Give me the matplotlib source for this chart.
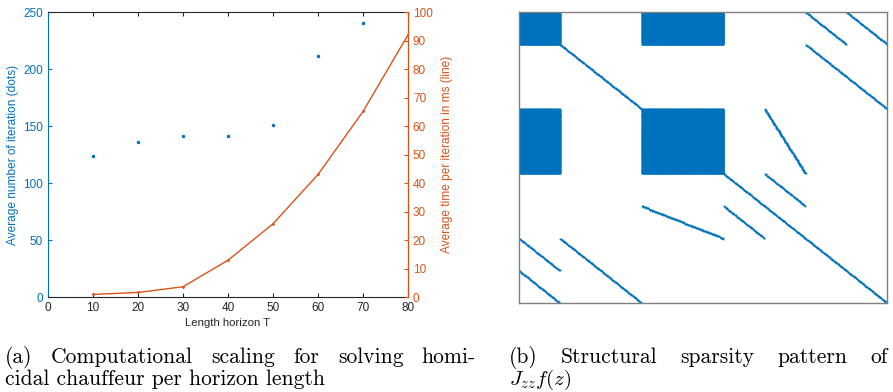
import numpy as np
from matplotlib import pyplot as plt

plt.rcParams['font.family'] = ['Liberation Sans', 'DejaVu Sans']
plt.rcParams['mathtext.fontset'] = 'cm'

# Left panel data
horizon = [10, 20, 30, 40, 50, 60, 70, 80]
iterations = [124, 136, 141.5, 141.5, 150.5, 211, 240, np.nan]
time_ms = [0.9, 1.6, 3.6, 12.9, 25.7, 43.0, 65.1, 92.0]

# Right panel: sparsity structure in block units (col0, row0, col1, row1), 9x9 grid
units = 9
dense_blocks = [(0, 0, 1, 1), (3, 0, 5, 1), (0, 3, 1, 5), (3, 3, 5, 5)]
diag_segments = [(1, 1, 3, 3), (5, 5, 9, 9), (7, 0, 8, 1), (8, 0, 9, 1),
                 (7, 1, 9, 3), (6, 3, 7, 5), (6, 5, 7, 6), (3, 6, 5, 7),
                 (5, 6, 6, 7), (0, 7, 1, 8), (1, 7, 3, 9), (0, 8, 1, 9)]

blue = '#0072BD'
orange = '#D95319'
grey = '#262626'

fig = plt.figure(figsize=(8.93, 3.92), dpi=100)

# ---- left: computational scaling ----
ax1 = fig.add_axes([0.0538, 0.2423, 0.4031, 0.7270])
ax1.plot(horizon, iterations, '.', color=blue, markersize=3)
ax1.set_xlim(0, 80)
ax1.set_ylim(0, 250)
ax1.set_xticks(range(0, 81, 10))
ax1.set_yticks(range(0, 251, 50))
ax1.set_ylabel('Average number of iteration (dots)', color=blue, fontsize=8.6, labelpad=3)
ax1.set_xlabel('Length horizon T', color=grey, fontsize=8.2, labelpad=3)
ax1.tick_params(axis='y', colors=blue, direction='in', length=3, labelsize=8.5)
ax1.tick_params(axis='x', colors=grey, direction='in', length=3, labelsize=8.5, top=True)
ax1.spines['left'].set_color(blue)
ax1.spines['bottom'].set_color(grey)
ax1.spines['top'].set_color(grey)
for s in ax1.spines.values():
    s.set_linewidth(0.8)

ax2 = ax1.twinx()
ax2.plot(horizon, time_ms, '.-', color=orange, markersize=2, linewidth=1)
ax2.set_ylim(0, 100)
ax2.set_yticks(range(0, 101, 10))
ax2.set_ylabel('Average time per iteration in ms (line)', color=orange, fontsize=8.6, labelpad=6)
ax2.tick_params(axis='y', colors=orange, direction='in', length=3, labelsize=8.5)
ax2.spines['right'].set_color(orange)
ax2.spines['left'].set_visible(False)
ax2.spines['top'].set_visible(False)
ax2.spines['bottom'].set_visible(False)
ax2.spines['right'].set_linewidth(0.8)

# ---- right: sparsity pattern ----
n = 60
N = units * n
M = np.zeros((N, N))
for c0, r0, c1, r1 in dense_blocks:
    M[r0 * n:r1 * n, c0 * n:c1 * n] = 1
for c0, r0, c1, r1 in diag_segments:
    steps = max(abs(c1 - c0), abs(r1 - r0)) * n
    t = np.linspace(0, 1, steps, endpoint=False)
    rows = np.round((r0 + (r1 - r0) * t) * n).astype(int)
    cols = np.round((c0 + (c1 - c0) * t) * n).astype(int)
    M[np.clip(rows, 0, N - 1), np.clip(cols, 0, N - 1)] = 1

ax3 = fig.add_axes([0.5812, 0.2270, 0.4124, 0.7424])
ax3.spy(M, marker='o', markersize=1.4, markeredgewidth=0, color=blue, aspect='auto')
ax3.set_xticks([])
ax3.set_yticks([])
for s in ax3.spines.values():
    s.set_color('#7f7f7f')
    s.set_linewidth(1)

# ---- captions ----
cap = dict(family=['cmr10', 'DejaVu Serif'], fontsize=15.5, color='black', va='baseline')
renderer = fig.canvas.get_renderer()


def justified(words, x0, x1, y_px):
    texts = [fig.text(0, 1 - y_px / 392, w, **cap) for w in words]
    widths = [t.get_window_extent(renderer).width for t in texts]
    gap = (x1 - x0 - sum(widths)) / (len(words) - 1)
    x = x0
    for t, w in zip(texts, widths):
        t.set_x(x / 893)
        x += w + gap


justified(['(a)', 'Computational', 'scaling', 'for', 'solving', 'homi-'], 5, 476, 363)
fig.text(5 / 893, 1 - 385 / 392, 'cidal chauffeur per horizon length', **cap)
justified(['(b)', 'Structural', 'sparsity', 'pattern', 'of'], 509, 888, 363)
fig.text(509 / 893, 1 - 385 / 392, r'$J_{zz}f(z)$', fontsize=15, va='baseline')

fig.savefig('out.png', dpi=100)
